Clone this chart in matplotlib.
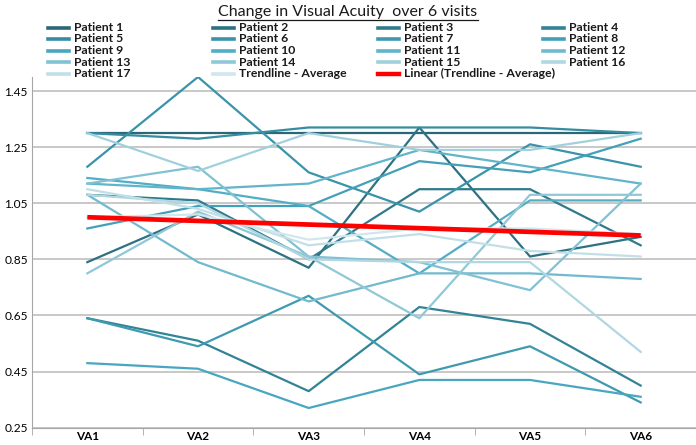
import numpy as np
import matplotlib
matplotlib.use('Agg')
import matplotlib.pyplot as plt
from matplotlib.lines import Line2D
from matplotlib.colors import LinearSegmentedColormap

plt.rcParams['font.family'] = ['Lato', 'DejaVu Sans']

# visual acuity per visit
visits = ['VA1', 'VA2', 'VA3', 'VA4', 'VA5', 'VA6']
p1 = [1.30, 1.30, 1.30, 1.30, 1.30, 1.30]
p2 = [0.84, 1.01, 0.82, 1.32, 0.86, 0.93]
p3 = [1.08, 1.06, 0.85, 1.10, 1.10, 0.90]
p4 = [0.64, 0.56, 0.38, 0.68, 0.62, 0.40]
p5 = [1.30, 1.28, 1.32, 1.32, 1.32, 1.30]
p6 = [1.18, 1.50, 1.16, 1.02, 1.26, 1.18]
p7 = [0.64, 0.54, 0.72, 0.44, 0.54, 0.34]
p8 = [0.96, 1.04, 1.04, 1.20, 1.16, 1.28]
p9 = [0.48, 0.46, 0.32, 0.42, 0.42, 0.36]
p10 = [1.14, 1.10, 1.04, 0.80, 1.06, 1.06]
p11 = [1.12, 1.10, 1.12, 1.24, 1.18, 1.12]
p12 = [1.08, 0.84, 0.70, 0.80, 0.80, 0.78]
p13 = [1.12, 1.18, 0.86, 0.84, 0.74, 1.12]
p14 = [0.80, 1.02, 0.86, 0.64, 1.08, 1.08]
p15 = [1.30, 1.165, 1.30, 1.24, 1.24, 1.30]
p16 = [1.08, 1.05, 0.85, 0.84, 0.84, 0.52]
p17 = [1.10, 1.03, 0.90, 0.94, 0.88, 0.86]
trend_avg = [1.00, 1.01, 0.92, 0.96, 0.96, 0.94]
linear_avg = [1.00, 0.987, 0.974, 0.961, 0.948, 0.935]

patients = [p1, p2, p3, p4, p5, p6, p7, p8, p9, p10,
            p11, p12, p13, p14, p15, p16, p17]
labels = ['Patient %d' % (i + 1) for i in range(17)]
labels += ['Trendline - Average', 'Linear (Trendline - Average)']

cmap = LinearSegmentedColormap.from_list(
    'teal', ['#2a6878', '#378ea3', '#4aaac3', '#8cc6d6', '#d2e7ed'])
colors = [cmap(i / 17) for i in range(18)]

fig = plt.figure(figsize=(6.96, 4.45), dpi=100)
ax = fig.add_axes([0.046, 0.039, 0.954, 0.788])

x = np.arange(len(visits))
for i, vals in enumerate(patients):
    ax.plot(x, vals, color=colors[i], lw=1.6)
ax.plot(x, trend_avg, color=colors[17], lw=1.6)
ax.plot(x, linear_avg, color='#ff0000', lw=3.4, solid_capstyle='butt')

ax.set_xlim(-0.5, 5.5)
ax.set_ylim(0.25, 1.50)
ax.set_yticks(np.arange(0.25, 1.46, 0.2))
ax.set_yticklabels(['%.2f' % v for v in np.arange(0.25, 1.46, 0.2)], fontsize=8.6)
ax.set_xticks(x)
ax.set_xticklabels(visits, fontsize=8.5, fontweight='bold')
ax.set_xticks(np.arange(-0.5, 5.6, 1), minor=True)
ax.tick_params(axis='x', which='major', length=0, pad=2.5)
ax.tick_params(axis='x', which='minor', length=5, color='#a6a6a6', direction='out')
ax.tick_params(axis='y', length=0, pad=3)
ax.yaxis.grid(True, color='#bfbfbf', lw=1.2)
ax.set_axisbelow(True)
for s in ['top', 'right']:
    ax.spines[s].set_visible(False)
for s in ['left', 'bottom']:
    ax.spines[s].set_color('#a6a6a6')

# legend, laid out row by row like the Excel one
W, H = 696.0, 445.0
for k, lab in enumerate(labels):
    r, c = divmod(k, 4)
    xh = 48 + 165 * c
    yy = 1 - (27.5 + 11.5 * r) / H
    col = '#ff0000' if k == 18 else colors[k]
    fig.add_artist(Line2D([xh / W, (xh + 21) / W], [yy, yy], color=col,
                          lw=3.2 if k == 18 else 2.6))
    fig.text((xh + 26) / W, yy, lab, va='center', ha='left', fontsize=8.8,
             fontweight='bold', color='#1a1a1a')

title = fig.text(0.5, 1 - 12 / H, 'Change in Visual Acuity  over 6 visits',
                 ha='center', va='center', fontsize=11.5, color='#1a1a1a')
fig.canvas.draw()
bb = title.get_window_extent()
fig.add_artist(Line2D([bb.x0 / W, bb.x1 / W], [(bb.y0 - 0.5) / H] * 2,
                      color='#1a1a1a', lw=0.9))

fig.savefig('out.png', dpi=100)
